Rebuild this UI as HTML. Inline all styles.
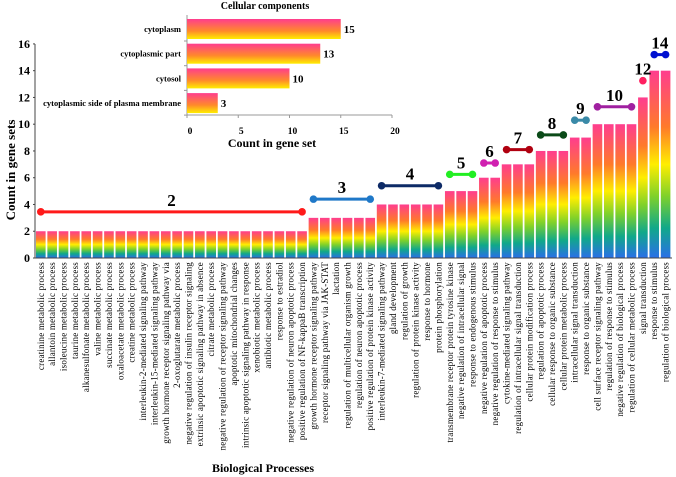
<!DOCTYPE html>
<html><head><meta charset="utf-8"><style>
body{margin:0;background:#fff}
svg{display:block}
text{font-family:"Liberation Serif","DejaVu Serif",serif}
</style></head><body>
<svg id="c" width="676" height="477" viewBox="0 0 676 477" font-family="Liberation Serif, serif">
<defs>
<linearGradient id="gv" x1="0" y1="0" x2="0" y2="1">
<stop offset="0" stop-color="#ff3d8e"/><stop offset="0.3" stop-color="#ff7a2a"/><stop offset="0.5" stop-color="#ffee00"/><stop offset="0.67" stop-color="#7fd12a"/><stop offset="0.84" stop-color="#10a88a"/><stop offset="1" stop-color="#2a6fe8"/>
</linearGradient>
<linearGradient id="gi" x1="0" y1="0" x2="0" y2="1">
<stop offset="0" stop-color="#ff3d8e"/><stop offset="0.6" stop-color="#ff8a2a"/><stop offset="1" stop-color="#ffee00"/>
</linearGradient>
</defs>
<g id="main"></g>
<g id="inset"></g>
</svg>
<script>
const categories=["creatinine metabolic process","allantoin metabolic process","isoleucine metabolic process","taurine metabolic process","alkanesulfonate metabolic process","valine metabolic process","succinate metabolic process","oxaloacetate metabolic process","creatine metabolic process","interleukin-2-mediated signaling pathway","interleukin-15-mediated signaling pathway","growth hormone receptor signaling pathway via","2-oxoglutarate metabolic process","negative regulation of insulin receptor signaling","extrinsic apoptotic signaling pathway in absence","citrate metabolic process","negative regulation of receptor signaling pathway","apoptotic mitochondrial changes","intrinsic apoptotic signaling pathway in response","xenobiotic metabolic process","antibiotic metabolic process","response to estradiol","negative regulation of neuron apoptotic process","positive regulation of NF-kappaB transcription","growth hormone receptor signaling pathway","receptor signaling pathway via JAK-STAT","lactation","regulation of multicellular organism growth","regulation of neuron apoptotic process","positive regulation of protein kinase activity","interleukin-7-mediated signaling pathway","gland development","regulation of growth","regulation of protein kinase activity","response to hormone","protein phosphorylation","transmembrane receptor protein tyrosine kinase","negative regulation of intracellular signal","response to endogenous stimulus","negative regulation of apoptotic process","negative regulation of response to stimulus","cytokine-mediated signaling pathway","regulation of intracellular signal transduction","cellular protein modification process","regulation of apoptotic process","cellular response to organic substance","cellular protein metabolic process","intracellular signal transduction","response to organic substance","cell surface receptor signaling pathway","regulation of response to stimulus","negative regulation of biological process","regulation of cellular metabolic process","signal transduction","response to stimulus","regulation of biological process"];
const counts=[2,2,2,2,2,2,2,2,2,2,2,2,2,2,2,2,2,2,2,2,2,2,2,2,3,3,3,3,3,3,4,4,4,4,4,4,5,5,5,6,6,7,7,7,8,8,8,9,9,10,10,10,10,12,14,14];
const groupValues=[2,3,4,5,6,7,8,9,10,12,14];
const groupColors=["#ff1a1a","#1f78c8","#0d2a66","#22ee22","#d020b0","#b00010","#0b4a18","#3a8aa8","#a020a0","#ff2060","#0010d0"];
const yTicks=[0,2,4,6,8,10,12,14,16];
const insetCats=["cytoplasm","cytoplasmic part","cytosol","cytoplasmic side of plasma membrane"];
const insetVals=[15,13,10,3];
const insetTicks=[0,5,10,15,20];

const NS="http://www.w3.org/2000/svg";
const FF="Liberation Serif, DejaVu Serif, serif";
function el(t,a,p){const e=document.createElementNS(NS,t);for(const k in a)e.setAttribute(k,a[k]);if(t==='text')e.setAttribute('font-family',FF);p.appendChild(e);return e;}
const main=document.getElementById('main'),ins=document.getElementById('inset');
const x0=36,pitch=11.36,bw=9.6,yBase=258,yUnit=13.38;
const X=i=>x0+i*pitch;const Y=v=>yBase-v*yUnit;
let a=el('line',{x1:35,y1:44,x2:35,y2:yBase,stroke:'#444','stroke-width':1},main);

yTicks.forEach(t=>{const tx=el('text',{x:30,y:Y(t)+4,'text-anchor':'end','font-size':12,'font-weight':'bold'},main);tx.textContent=t;

el('line',{x1:33,x2:35,y1:Y(t),y2:Y(t),stroke:'#444'},main);});
const yt=el('text',{x:0,y:0,transform:'translate(15,170) rotate(-90)','text-anchor':'middle','font-size':13,'font-weight':'bold'},main);yt.textContent='Count in gene sets';

const xt=el('text',{x:263,y:472,'text-anchor':'middle','font-size':12,'font-weight':'bold'},main);xt.textContent='Biological Processes';

counts.forEach((v,i)=>{const r=el('rect',{x:X(i),y:Y(v),width:bw,height:v*yUnit,fill:'url(#gv)'},main);

const lx=X(i)+bw/2+3;const t=el('text',{x:0,y:0,transform:`translate(${lx},262) rotate(-90)`,'text-anchor':'end','font-size':9,'letter-spacing':'0.2'},main);t.textContent=categories[i];
});
el('line',{x1:35,x2:672,y1:yBase,y2:yBase,stroke:'#444'},main);
const offs={2:1.45,3:1.4,4:1.4,5:1.25,6:1.1,7:1.1,8:1.2,9:1.3,10:1.3,12:1.25,14:1.2};
groupValues.forEach((g,k)=>{const idx=counts.map((v,i)=>v===g?i:-1).filter(i=>i>=0);
const xa=X(idx[0])+bw/2,xb=X(idx[idx.length-1])+bw/2,yy=Y(g+offs[g]),c=groupColors[k];
const gg=el('g',{},main);
if(xb>xa)el('line',{x1:xa,x2:xb,y1:yy,y2:yy,stroke:c,'stroke-width':3},gg);
el('circle',{cx:xa,cy:yy,r:3.8,fill:c},gg);if(xb>xa)el('circle',{cx:xb,cy:yy,r:3.8,fill:c},gg);
const t=el('text',{x:(xa+xb)/2,y:yy-6,'text-anchor':'middle','font-size':17,'font-weight':'bold'},gg);t.textContent=g;});
const ix0=187,iu=10.25,iy0=15,ip=24.7,ih=20;
const ttl=el('text',{x:265,y:9,'text-anchor':'middle','font-size':10,'font-weight':'bold'},ins);ttl.textContent='Cellular components';

el('line',{x1:ix0,x2:ix0,y1:15,y2:115,stroke:'#999'},ins);
el('line',{x1:ix0,x2:ix0+20*iu,y1:115,y2:115,stroke:'#999'},ins);
insetTicks.forEach(t=>{const x=ix0+t*iu;el('line',{x1:x,x2:x,y1:115,y2:118,stroke:'#999'},ins);
const tx=el('text',{x:x+3,y:134,'text-anchor':'middle','font-size':9.5,'font-weight':'bold'},ins);tx.textContent=t;
});
insetVals.forEach((v,i)=>{const y=iy0+i*ip+4;
const r=el('rect',{x:ix0,y:y,width:v*iu,height:ih,fill:'url(#gi)'},ins);

const l=el('text',{x:181,y:y+ih/2+3,'text-anchor':'end','font-size':8.5,'font-weight':'bold'},ins);l.textContent=insetCats[i];

const vl=el('text',{x:ix0+v*iu+3,y:y+ih/2+4,'font-size':11,'font-weight':'bold'},ins);vl.textContent=v;

el('line',{x1:ix0-3,x2:ix0,y1:y+ih+2,y2:y+ih+2,stroke:'#999'},ins);});
const ixt=el('text',{x:272,y:147,'text-anchor':'middle','font-size':12,'font-weight':'bold'},ins);ixt.textContent='Count in gene set';

</script>
</body></html>
